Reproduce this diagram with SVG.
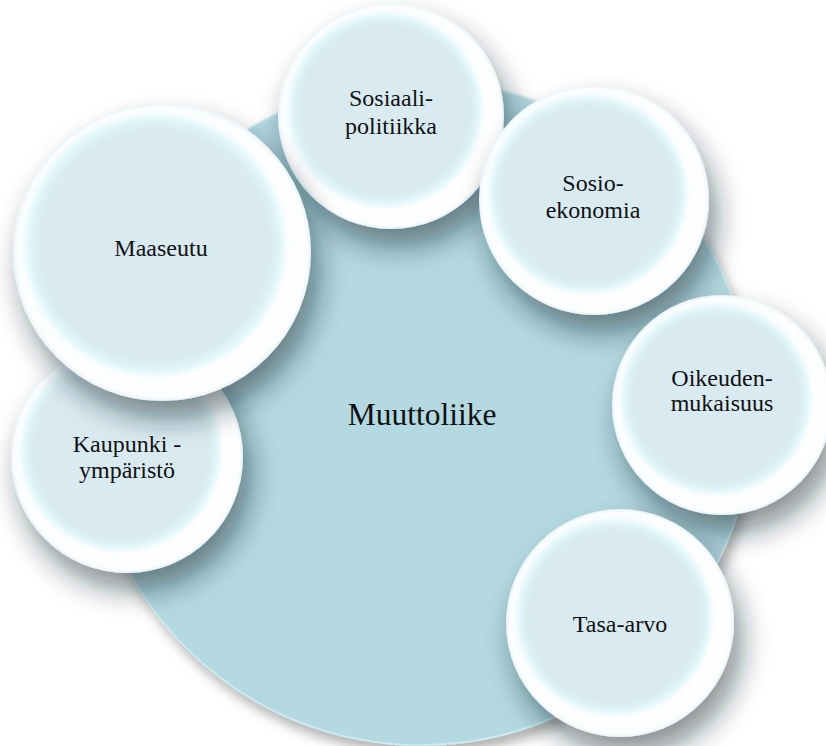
<svg xmlns="http://www.w3.org/2000/svg" width="826" height="746" viewBox="0 0 826 746">
  <style>
    .lbl { font-family: 'Liberation Serif', 'Times New Roman', serif; font-size: 24px; fill: #111; text-anchor: middle; }
    .main { font-family: 'Liberation Serif', 'Times New Roman', serif; font-size: 31.5px; fill: #111; text-anchor: middle; }
    .rim { fill: url(#rimGrad); filter: url(#bubbleShadow); }
    .inner { fill: url(#innerGrad); filter: url(#soft); }
  </style>
  <defs>
    <filter id="bubbleShadow" x="-40%" y="-40%" width="180%" height="190%">
      <feGaussianBlur in="SourceAlpha" stdDeviation="14"/>
      <feOffset dx="8" dy="18" result="b"/>
      <feFlood flood-color="#12232a" flood-opacity="0.5"/>
      <feComposite in2="b" operator="in" result="s"/>
      <feMerge><feMergeNode in="s"/><feMergeNode in="SourceGraphic"/></feMerge>
    </filter>
    <filter id="bigShadow" x="-20%" y="-20%" width="140%" height="140%">
      <feGaussianBlur in="SourceAlpha" stdDeviation="6"/>
      <feOffset dx="4" dy="8" result="b"/>
      <feFlood flood-color="#000" flood-opacity="0.3"/>
      <feComposite in2="b" operator="in" result="s"/>
      <feMerge><feMergeNode in="s"/><feMergeNode in="SourceGraphic"/></feMerge>
    </filter>
    <filter id="soft" x="-10%" y="-10%" width="120%" height="120%">
      <feGaussianBlur stdDeviation="2.5"/>
    </filter>
    <radialGradient id="rimGrad" cx="50%" cy="50%" r="50%">
      <stop offset="0.85" stop-color="#ffffff"/>
      <stop offset="0.97" stop-color="#fbfdfe"/>
      <stop offset="1" stop-color="#eaf3f6"/>
    </radialGradient>
    <radialGradient id="innerGrad" cx="50%" cy="50%" r="50%">
      <stop offset="0" stop-color="#d9ebf1"/>
      <stop offset="0.88" stop-color="#d9ebf1"/>
      <stop offset="0.96" stop-color="#e2f7fb"/>
      <stop offset="1" stop-color="#f4feff"/>
    </radialGradient>
  </defs>

  <g id="center-node">
    <circle cx="421" cy="413" r="333" fill="#b4d9e1" filter="url(#bigShadow)"/>
    <circle cx="421" cy="413" r="332" fill="none" stroke="#cdebf1" stroke-width="1.5"/>
    <text class="main" x="422" y="425">Muuttoliike</text>
  </g>

  <g id="connectors"></g>

  <g id="node-sosiaalipolitiikka">
    <circle class="rim" cx="391" cy="116" r="113"/>
    <circle class="inner" cx="385" cy="110" r="98"/>
    <text class="lbl" x="391" y="106">Sosiaali-</text>
    <text class="lbl" x="391" y="134">politiikka</text>
  </g>

  <g id="node-sosioekonomia">
    <circle class="rim" cx="594" cy="200" r="115"/>
    <circle class="inner" cx="588" cy="194" r="100"/>
    <text class="lbl" x="593" y="191">Sosio-</text>
    <text class="lbl" x="593" y="218">ekonomia</text>
  </g>

  <g id="node-oikeudenmukaisuus">
    <circle class="rim" cx="722" cy="405" r="110"/>
    <circle class="inner" cx="716" cy="399" r="96"/>
    <text class="lbl" x="722" y="386">Oikeuden-</text>
    <text class="lbl" x="722" y="411">mukaisuus</text>
  </g>

  <g id="node-tasaarvo">
    <circle class="rim" cx="620" cy="623" r="114"/>
    <circle class="inner" cx="614" cy="617" r="99"/>
    <text class="lbl" x="620" y="632">Tasa-arvo</text>
  </g>

  <g id="node-kaupunkiymparisto">
    <circle class="rim" cx="127" cy="457" r="116"/>
    <circle class="inner" cx="121" cy="451" r="101"/>
    <text class="lbl" x="127" y="452">Kaupunki -</text>
    <text class="lbl" x="127" y="478">ympäristö</text>
  </g>

  <g id="node-maaseutu">
    <circle class="rim" cx="162" cy="252" r="149"/>
    <circle class="inner" cx="155" cy="245" r="132"/>
    <text class="lbl" x="161" y="256">Maaseutu</text>
  </g>
</svg>
